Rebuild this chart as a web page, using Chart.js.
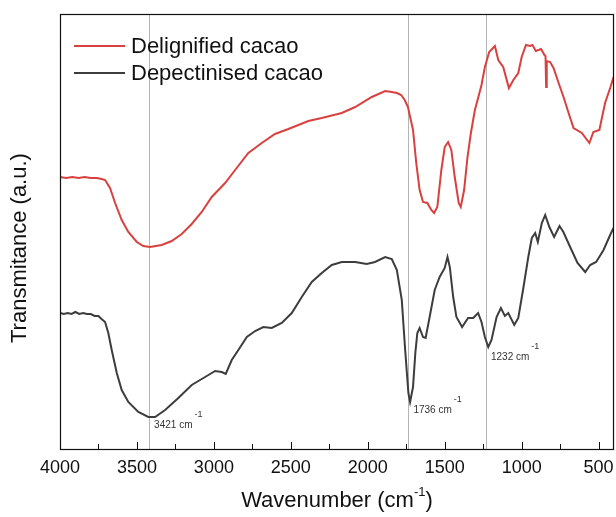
<!DOCTYPE html>
<html>
<head>
<meta charset="utf-8">
<script src="https://cdn.jsdelivr.net/npm/chart.js@4.4.1/dist/chart.umd.min.js"></script>
<style>
  html, body { margin: 0; padding: 0; background: #fff; }
  #wrap { width: 616px; height: 517px; }
</style>
</head>
<body>
<div id="wrap"><canvas id="ftir" width="616" height="517"></canvas></div>
<script>
// spectra: wavenumber (cm-1) / transmittance (a.u.)
const delignWn = [4000, 3960, 3920, 3880, 3840, 3800, 3760, 3730, 3707, 3675, 3642, 3599, 3556, 3501, 3459, 3415, 3339, 3274, 3209, 3144, 3079, 3014, 2927, 2862, 2776, 2689, 2603, 2516, 2386, 2299, 2169, 2082, 1974, 1887, 1844, 1810, 1783, 1760, 1739, 1706, 1685, 1663, 1641, 1613, 1587, 1569, 1548, 1522, 1500, 1478, 1457, 1435, 1409, 1396, 1374, 1352, 1330, 1304, 1283, 1261, 1239, 1211, 1174, 1152, 1120, 1083, 1054, 1022, 1000, 972, 946, 930, 908, 874, 852, 845, 841, 837, 815, 793, 760, 728, 695, 663, 609, 560, 534, 495, 458, 425, 403];
const delignT = [272, 271, 272, 271, 272, 271, 271, 270, 269, 261, 246, 229, 217, 207, 203, 202, 204, 208, 215, 225, 237, 252, 266, 279, 296, 306, 315, 320, 328, 331, 336, 342, 352, 358, 357, 356, 354, 349, 342, 319, 286, 259, 247, 246, 239, 236, 242, 279, 302, 307, 299, 272, 246, 242, 259, 292, 316, 339, 351, 364, 382, 397, 403, 389, 382, 361, 369, 376, 392, 404, 403, 404, 398, 400, 394, 393, 362, 388, 387, 381, 366, 352, 336, 321, 316, 306, 317, 319, 346, 361, 372];

const depectWn = [4000, 3975, 3950, 3925, 3900, 3875, 3850, 3825, 3800, 3775, 3750, 3730, 3707, 3686, 3664, 3631, 3599, 3556, 3491, 3426, 3382, 3317, 3231, 3144, 3057, 2992, 2949, 2923, 2884, 2841, 2786, 2732, 2679, 2624, 2559, 2494, 2429, 2364, 2299, 2234, 2169, 2082, 2007, 1953, 1887, 1844, 1811, 1779, 1757, 1736, 1725, 1706, 1691, 1678, 1663, 1641, 1624, 1598, 1565, 1533, 1500, 1482, 1467, 1445, 1424, 1387, 1348, 1315, 1283, 1261, 1239, 1217, 1196, 1163, 1135, 1109, 1087, 1048, 1022, 989, 957, 934, 912, 895, 869, 847, 820, 789, 754, 729, 685, 637, 587, 555, 516, 468, 425, 403];
const depectT = [136, 135, 136, 135, 137, 135, 136, 135, 135, 133, 133, 130, 127, 116, 99, 76, 59, 47, 37, 32, 32, 39, 51, 64, 72, 78, 77, 75, 89, 99, 112, 118, 122, 121, 126, 136, 152, 167, 176, 184, 187, 187, 185, 187, 192, 190, 179, 149, 99, 56, 47, 62, 96, 116, 121, 112, 111, 132, 159, 172, 181, 192, 182, 152, 132, 122, 131, 131, 136, 127, 112, 102, 109, 132, 141, 133, 136, 124, 131, 161, 192, 211, 216, 207, 226, 234, 222, 212, 223, 217, 202, 186, 177, 184, 187, 199, 214, 221];

const xTicks = [500, 750, 1000, 1250, 1500, 1750, 2000, 2250, 2500, 2750, 3000, 3250, 3500, 3750, 4000];

// marked bands and where their labels sit
const peakWn = [3421, 1736, 1232];
const peakText = ['3421 cm', '1736 cm', '1232 cm'];
const peakTextT = [24, 39, 92];

const RED = '#d8413f';
const DARK = '#3d3d3d';
const FONT = "'Liberation Sans', Arial, sans-serif";

const toPts = (xs, ys) => xs.map((x, i) => ({ x: x, y: ys[i] }));

// vertical reference lines, drawn under the spectra
const bandLines = {
  id: 'bandLines',
  beforeDatasetsDraw(chart) {
    const { ctx, chartArea: a, scales: { x } } = chart;
    ctx.save();
    ctx.strokeStyle = '#b4b4b4';
    ctx.lineWidth = 1;
    peakWn.forEach(w => {
      const px = Math.round(x.getPixelForValue(w)) + 0.5;
      ctx.beginPath();
      ctx.moveTo(px, a.top);
      ctx.lineTo(px, a.bottom);
      ctx.stroke();
    });
    ctx.restore();
  }
};

// frame, inward ticks, labels, legend, axis titles
const decor = {
  id: 'decor',
  afterDraw(chart) {
    const { ctx, chartArea: a, scales: { x, y } } = chart;
    ctx.save();

    ctx.strokeStyle = '#111';
    ctx.lineWidth = 1.2;
    ctx.strokeRect(a.left + 0.5, a.top + 0.5, a.right - a.left - 1, a.bottom - a.top);

    ctx.lineWidth = 1;
    xTicks.forEach(v => {
      const px = Math.round(x.getPixelForValue(v)) + 0.5;
      const len = v % 500 === 0 ? 7 : 5;
      ctx.beginPath();
      ctx.moveTo(px, a.bottom);
      ctx.lineTo(px, a.bottom - len);
      ctx.stroke();
    });

    // band labels with superscript -1
    ctx.fillStyle = '#333';
    ctx.textBaseline = 'middle';
    peakWn.forEach((w, i) => {
      const px = x.getPixelForValue(w) + 5;
      const py = y.getPixelForValue(peakTextT[i]);
      ctx.font = '10px ' + FONT;
      ctx.fillText(peakText[i], px, py);
      const tw = ctx.measureText(peakText[i]).width;
      ctx.font = '9px ' + FONT;
      ctx.fillText('-1', px + tw + 2, py - 10);
    });

    // legend
    ctx.font = '22px ' + FONT;
    chart.data.datasets.forEach((ds, i) => {
      const ly = 46 + i * 27;
      ctx.strokeStyle = ds.borderColor;
      ctx.lineWidth = 2;
      ctx.beginPath();
      ctx.moveTo(a.left + 14, ly);
      ctx.lineTo(a.left + 65, ly);
      ctx.stroke();
      ctx.fillStyle = '#111';
      ctx.fillText(ds.label, a.left + 71, ly + 1);
    });

    // x title with superscript
    const t1 = 'Wavenumber (cm';
    ctx.font = '22px ' + FONT;
    const w1 = ctx.measureText(t1).width;
    ctx.font = '13px ' + FONT;
    const w2 = ctx.measureText('-1').width;
    ctx.font = '22px ' + FONT;
    const w3 = ctx.measureText(')').width;
    const tx = (a.left + a.right) / 2 - (w1 + w2 + w3) / 2;
    const ty = 501;
    ctx.fillStyle = '#111';
    ctx.fillText(t1, tx, ty);
    ctx.font = '13px ' + FONT;
    ctx.fillText('-1', tx + w1, ty - 9);
    ctx.font = '22px ' + FONT;
    ctx.fillText(')', tx + w1 + w2, ty);

    // y title
    ctx.translate(20, 343);
    ctx.rotate(-Math.PI / 2);
    ctx.textAlign = 'left';
    ctx.font = '22px ' + FONT;
    ctx.fillText('Transmitance (a.u.)', 0, 0);

    ctx.restore();
  }
};

new Chart(document.getElementById('ftir').getContext('2d'), {
  type: 'line',
  data: {
    datasets: [
      { label: 'Delignified cacao', data: toPts(delignWn, delignT), borderColor: RED, backgroundColor: RED, borderWidth: 2, pointRadius: 0, tension: 0 },
      { label: 'Depectinised cacao', data: toPts(depectWn, depectT), borderColor: DARK, backgroundColor: DARK, borderWidth: 2, pointRadius: 0, tension: 0 }
    ]
  },
  options: {
    responsive: false,
    animation: false,
    layout: { padding: { top: 14, right: 2, left: 0, bottom: 0 } },
    plugins: { legend: { display: false }, tooltip: { enabled: false } },
    scales: {
      x: {
        type: 'linear',
        reverse: true,
        min: 400,
        max: 4000,
        afterBuildTicks: s => { s.ticks = xTicks.map(v => ({ value: v })); },
        afterFit: s => { s.height = 68; },
        grid: { display: false, drawTicks: false },
        border: { display: false },
        ticks: {
          autoSkip: false,
          maxRotation: 0,
          padding: 8,
          color: '#111',
          font: { family: FONT, size: 18 },
          callback: v => (v % 500 === 0 ? String(v) : '')
        }
      },
      y: {
        min: 0,
        max: 435,
        afterFit: s => { s.width = 60; },
        grid: { display: false, drawTicks: false },
        border: { display: false },
        ticks: { display: false }
      }
    }
  },
  plugins: [bandLines, decor]
});
</script>
</body>
</html>
